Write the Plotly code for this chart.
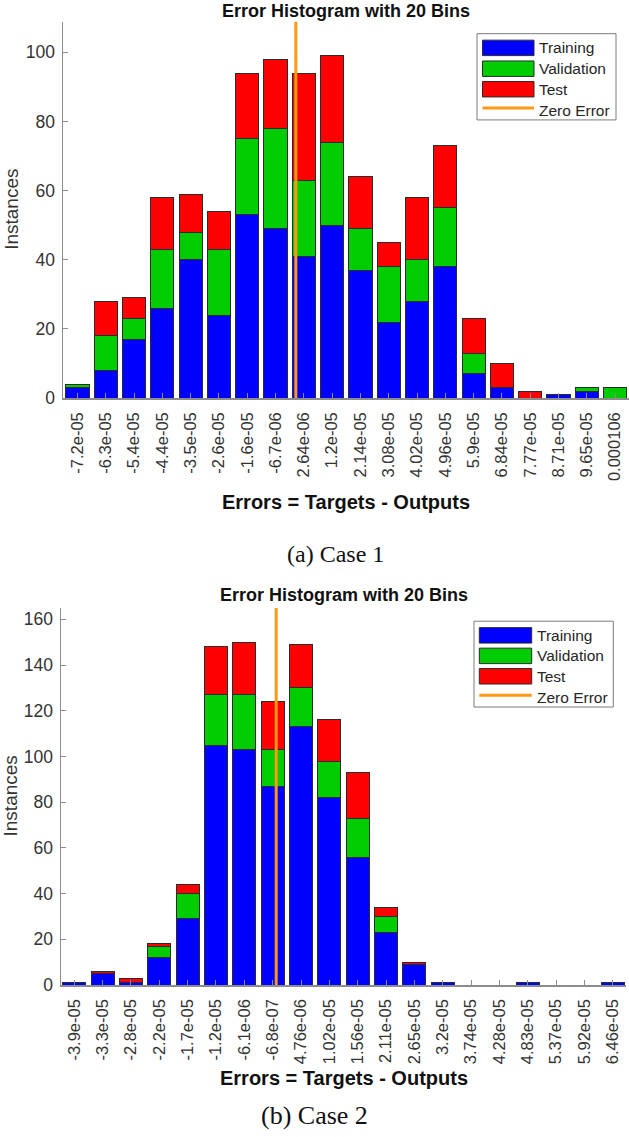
import numpy as np
import plotly.graph_objects as go

W, H = 629, 1137

# ---------------- data ----------------
bins1 = ["-7.2e-05", "-6.3e-05", "-5.4e-05", "-4.4e-05", "-3.5e-05", "-2.6e-05",
         "-1.6e-05", "-6.7e-06", "2.64e-06", "1.2e-05", "2.14e-05", "3.08e-05",
         "4.02e-05", "4.96e-05", "5.9e-05", "6.84e-05", "7.77e-05", "8.71e-05",
         "9.65e-05", "0.000106"]
training1 = [3, 8, 17, 26, 40, 24, 53, 49, 41, 50, 37, 22, 28, 38, 7, 3, 0, 1, 2, 0]
validation1 = [1, 10, 6, 17, 8, 19, 22, 29, 22, 24, 12, 16, 12, 17, 6, 0, 0, 0, 1, 3]
test1 = [0, 10, 6, 15, 11, 11, 19, 20, 31, 25, 15, 7, 18, 18, 10, 7, 2, 0, 0, 0]

bins2 = ["-3.9e-05", "-3.3e-05", "-2.8e-05", "-2.2e-05", "-1.7e-05", "-1.2e-05",
         "-6.1e-06", "-6.8e-07", "4.76e-06", "1.02e-05", "1.56e-05", "2.11e-05",
         "2.65e-05", "3.2e-05", "3.74e-05", "4.28e-05", "4.83e-05", "5.37e-05",
         "5.92e-05", "6.46e-05"]
training2 = [1, 5, 1, 12, 29, 105, 103, 87, 113, 82, 56, 23, 9, 1, 0, 0, 1, 0, 0, 1]
validation2 = [0, 0, 0, 5, 11, 22, 24, 16, 17, 16, 17, 7, 0, 0, 0, 0, 0, 0, 0, 0]
test2 = [0, 1, 2, 1, 4, 21, 23, 21, 19, 18, 20, 4, 1, 0, 0, 0, 0, 0, 0, 0]

series_names = ["Training", "Validation", "Test"]
title_text = "Error Histogram with 20 Bins"
xlabel_text = "Errors = Targets - Outputs"
ylabel_text = "Instances"
captions = ["(a) Case 1", "(b) Case 2"]

# ---------------- style ----------------
BLUE, GREEN, RED, ORANGE = "#0000FF", "#00CC00", "#FF0000", "#FF9914"
COLORS = [BLUE, GREEN, RED]
EDGE = "#2b2b2b"
AX = "#8c8c8c"
TXT = "#333333"
FONT = "Liberation Sans"
SERIF = "Liberation Serif"


def fx(px):
    return px / W


def fy(py):
    return 1 - py / H


panels = [
    dict(bins=bins1, data=[training1, validation1, test1], xa="x", ya="y",
         left=63, right=629, top=21.7, bottom=401.7, xr=[-0.51, 19.49],
         title_y=11, xlabel_y=506, ylabel_x=12, caption_y=559, caption_x=335,
         caption_size=24,
         legend=dict(x0=477, x1=616, y0=34, y1=121, sx0=482.5, sx1=534,
                     tx=537, rows=[48.3, 69.3, 90, 111])),
    dict(bins=bins2, data=[training2, validation2, test2], xa="x2", ya="y2",
         left=61, right=626, top=613.3, bottom=993.8, xr=[-0.47, 19.47],
         title_y=600, xlabel_y=1088, ylabel_x=10, caption_y=1125, caption_x=314,
         caption_size=26,
         legend=dict(x0=474, x1=613.3, y0=626.7, y1=713.3, sx0=479.3, sx1=531.7,
                     tx=534.5, rows=[641, 661.7, 682.3, 703.3])),
]

fig = go.Figure()
shapes = []
annotations = []
layout_axes = {}

for i, p in enumerate(panels):
    idx = list(range(len(p["bins"])))
    totals = np.sum(np.array(p["data"]), axis=0)
    ymax = float(totals.max()) * 1.1
    for name, vals, col in zip(series_names, p["data"], COLORS):
        fig.add_trace(go.Bar(
            x=idx, y=[v if v else None for v in vals], name=name,
            marker=dict(color=col, line=dict(color=EDGE, width=1)),
            width=0.82, xaxis=p["xa"], yaxis=p["ya"], showlegend=False))
    centers = [float(b) for b in p["bins"]]
    zero_pos = float(np.interp(0.0, centers, idx))
    fig.add_trace(go.Scatter(
        x=[zero_pos, zero_pos], y=[0, ymax], mode="lines", name="Zero Error",
        line=dict(color=ORANGE, width=3), xaxis=p["xa"], yaxis=p["ya"],
        showlegend=False, hoverinfo="skip"))

    xkey = "xaxis" if i == 0 else "xaxis2"
    ykey = "yaxis" if i == 0 else "yaxis2"
    layout_axes[xkey] = dict(
        domain=[fx(p["left"]), fx(p["right"])], range=p["xr"], anchor=p["ya"],
        tickmode="array", tickvals=idx, ticktext=p["bins"], tickangle=-90,
        ticks="inside", ticklen=5, tickcolor=AX, tickwidth=1,
        showline=True, linecolor=AX, linewidth=1.5, showgrid=False,
        zeroline=False, ticklabelstandoff=6,
        tickfont=dict(family=FONT, size=16.5, color=TXT))
    layout_axes[ykey] = dict(
        domain=[fy(p["bottom"]), fy(p["top"])], range=[0, ymax], anchor=p["xa"],
        tickmode="array", tickvals=list(range(0, int(ymax) + 1, 20)),
        ticks="inside", ticklen=5, tickcolor=AX, tickwidth=1,
        showline=True, linecolor=AX, linewidth=1.5, showgrid=False,
        zeroline=False, ticklabelstandoff=3,
        tickfont=dict(family=FONT, size=17.5, color=TXT))

    cx = (p["left"] + p["right"]) / 2
    annotations.append(dict(
        text="<b>%s</b>" % title_text, x=fx(cx), y=fy(p["title_y"]),
        xref="paper", yref="paper", xanchor="center", yanchor="middle",
        showarrow=False, font=dict(family=FONT, size=18, color="#111111")))
    annotations.append(dict(
        text="<b>%s</b>" % xlabel_text, x=fx(cx), y=fy(p["xlabel_y"]),
        xref="paper", yref="paper", xanchor="center", yanchor="middle",
        showarrow=False, font=dict(family=FONT, size=20, color="#111111")))
    annotations.append(dict(
        text=ylabel_text, x=fx(p["ylabel_x"]), y=fy((p["top"] + p["bottom"]) / 2),
        xref="paper", yref="paper", xanchor="center", yanchor="middle",
        textangle=-90, showarrow=False,
        font=dict(family=FONT, size=19, color=TXT)))
    annotations.append(dict(
        text=captions[i], x=fx(p["caption_x"]), y=fy(p["caption_y"]),
        xref="paper", yref="paper", xanchor="center", yanchor="middle",
        showarrow=False, font=dict(family=SERIF, size=p["caption_size"], color="#111111")))

    # legend box
    L = p["legend"]
    shapes.append(dict(type="rect", xref="paper", yref="paper",
                       x0=fx(L["x0"]), x1=fx(L["x1"]), y0=fy(L["y1"]), y1=fy(L["y0"]),
                       fillcolor="white", line=dict(color="#7a7a7a", width=1)))
    legend_labels = series_names + ["Zero Error"]
    for k, (lab, ry) in enumerate(zip(legend_labels, L["rows"])):
        if k < 3:
            shapes.append(dict(type="rect", xref="paper", yref="paper",
                               x0=fx(L["sx0"]), x1=fx(L["sx1"]),
                               y0=fy(ry + 7.8), y1=fy(ry - 7.8),
                               fillcolor=COLORS[k], line=dict(color=EDGE, width=1)))
        else:
            shapes.append(dict(type="line", xref="paper", yref="paper",
                               x0=fx(L["sx0"]), x1=fx(L["sx1"]),
                               y0=fy(ry - 2), y1=fy(ry - 2),
                               line=dict(color=ORANGE, width=3)))
        annotations.append(dict(
            text=lab, x=fx(L["tx"]), y=fy(ry), xref="paper", yref="paper",
            xanchor="left", yanchor="middle", showarrow=False,
            font=dict(family=FONT, size=15.5, color="#262626")))

fig.update_layout(
    width=W, height=H, autosize=False,
    margin=dict(l=0, r=0, t=0, b=0),
    paper_bgcolor="white", plot_bgcolor="white",
    barmode="stack", bargap=0.18, hovermode=False,
    shapes=shapes, annotations=annotations,
    **layout_axes)

fig.write_html(
    "out.html",
    config={"displayModeBar": False, "staticPlot": True},
    post_script="document.body.style.margin='0px';document.body.style.padding='0px';"
                "document.body.style.overflow='hidden';")
